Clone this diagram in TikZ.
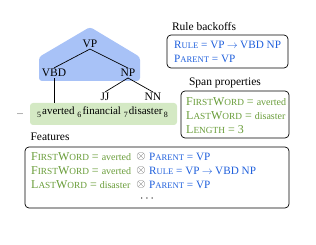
\documentclass[tikz,border=0pt]{standalone}
\usepackage{fontspec}
\setmainfont{Liberation Serif}
\definecolor{bluetxt}{RGB}{32,96,220}
\definecolor{greentxt}{RGB}{104,156,56}
\definecolor{bluefill}{RGB}{168,194,247}
\definecolor{greenfill}{RGB}{212,233,196}
\newcommand{\fsc}[2]{#1{\fontsize{9.3}{10}\selectfont #2}}
\newcommand{\bsc}[2]{#1{\fontsize{8.6}{10}\selectfont #2}}
\newcommand{\val}[1]{{\fontsize{10}{12}\selectfont #1}}
\newcommand{\idx}[1]{\raisebox{-3.5pt}{\fontsize{8}{8}\selectfont #1}\kern1.2pt}
\newcommand{\rarr}{\hbox to 10pt{\hss$\rightarrow$\hss}}
\begin{document}
\begin{tikzpicture}[x=1pt,y=-1pt,
  every node/.style={font=\fontsize{11.5}{13}\selectfont, inner sep=1pt},
  feat/.style={anchor=west, font=\fontsize{12}{14}\selectfont},
  bfeat/.style={anchor=west, font=\fontsize{11.2}{13}\selectfont, text=bluetxt},
  box/.style={draw=black, line width=0.7pt, rounded corners=4pt},
  edge/.style={line width=0.7pt}]
\useasboundingbox (0,0) rectangle (316,245);
% blue pentagon
\fill[bluefill, rounded corners=3pt] (39,57) -- (90,27) -- (140,57) -- (140,81) -- (39,81) -- cycle;
\node (vp) at (90,44) {VP};
\node (vbd) at (54,73) {VBD};
\node (np) at (128,73) {NP};
\node (jj) at (105,97) {JJ};
\node (nn) at (153,97) {NN};
\draw[edge] (vp.south) -- (vbd.north);
\draw[edge] (vp.south) -- (np.north);
\draw[edge] (np.south) -- (jj.north);
\draw[edge] (np.south) -- (nn.north);
% green words box
\node[fill=greenfill, rounded corners=3pt, minimum width=147, minimum height=22] (words) at (103.5,114) {};
\node[font=\fontsize{11}{13}\selectfont] (wtext) at (103,112) {\idx{5}averted \idx{6}financial \idx{7}disaster\kern1.2pt\idx{8}};
\node (dots) at (20,114) {\fontsize{8}{9}\selectfont ...};
\draw[edge] (vbd.south) -- (vbd.south |- words.north);
% rule backoffs
\node (rbl) at (204,27) {Rule backoffs};
\node[box, minimum width=121, minimum height=33] (rb) at (227.5,51.5) {};
\node[bfeat] (rb1) at (173,45) {\bsc{R}{ULE} = VP \rarr{} VBD NP};
\node[bfeat] (rb2) at (173,58.5) {\bsc{P}{ARENT} = VP};
% span properties
\node (spl) at (225,83) {Span properties};
\node[box, minimum width=108, minimum height=47] (sp) at (235,114.5) {};
\node[feat, text=greentxt] (sp1) at (185,102) {\fsc{F}{IRST}\fsc{W}{ORD} = \val{averted}};
\node[feat, text=greentxt] (sp2) at (185,116) {\fsc{L}{AST}\fsc{W}{ORD} = \val{disaster}};
\node[feat, text=greentxt] (sp3) at (185,129.5) {\fsc{L}{ENGTH} = 3};
% features
\node (fl) at (50,137) {Features};
\node[box, minimum width=264, minimum height=61] (ft) at (157,177.5) {};
\node[feat, text=greentxt] (f1) at (30,157) {\fsc{F}{IRST}\fsc{W}{ORD} = \val{averted}};
\node[feat, text=greentxt] (f2) at (30,171) {\fsc{F}{IRST}\fsc{W}{ORD} = \val{averted}};
\node[feat, text=greentxt] (f3) at (30,185) {\fsc{L}{AST}\fsc{W}{ORD} = \val{disaster}};
\node[font=\fontsize{12}{14}\selectfont, text=black!70] (o1) at (141,157) {$\otimes$};
\node[font=\fontsize{12}{14}\selectfont, text=black!70] (o2) at (141,171) {$\otimes$};
\node[font=\fontsize{12}{14}\selectfont, text=black!70] (o3) at (141,185) {$\otimes$};
\node[bfeat] (b1) at (148,157) {\bsc{P}{ARENT} = VP};
\node[bfeat] (b2) at (148,171) {\bsc{R}{ULE} = VP \rarr{} VBD NP};
\node[bfeat] (b3) at (148,185) {\bsc{P}{ARENT} = VP};
\node[inner sep=0pt, font=\bfseries\fontsize{12}{12}\selectfont] (fdots) at (147,199) {$\cdots$};
\end{tikzpicture}
\end{document}
